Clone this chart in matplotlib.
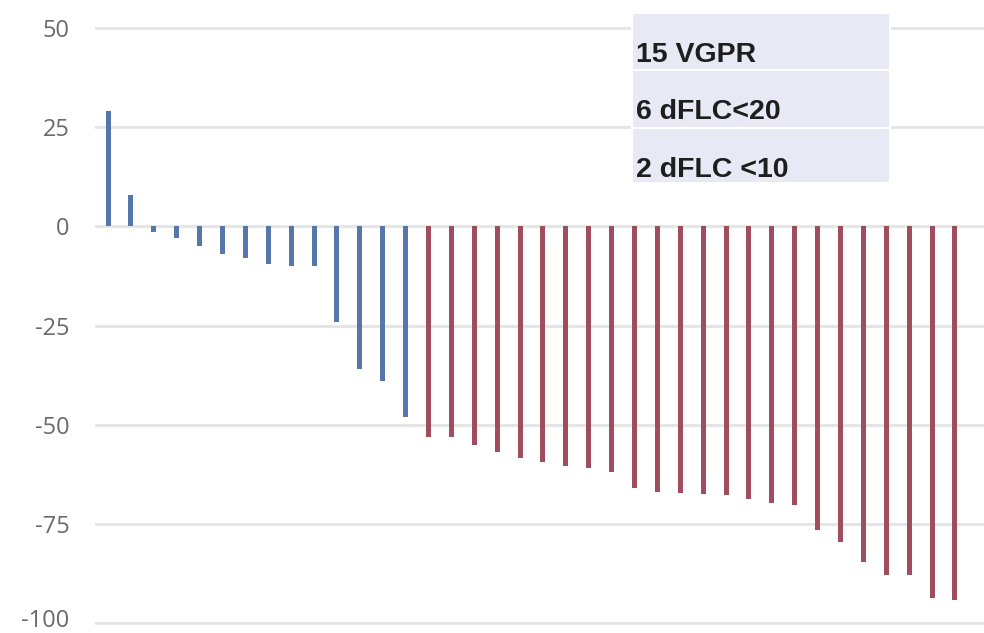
import matplotlib
matplotlib.use("Agg")
import matplotlib.pyplot as plt
from matplotlib.patches import Rectangle
from matplotlib.transforms import ScaledTranslation

# Change in dFLC (%) per patient, sorted from best to worst response
blue_values = [29, 8, -1.5, -3, -5, -7, -8, -9.5, -10, -10, -24, -36, -39, -48]
red_values = [-53, -53, -55, -57, -58.5, -59.5, -60.5, -61, -62, -66, -67, -67.3,
              -67.6, -67.8, -68.7, -69.8, -70.3, -76.5, -79.5, -84.6, -88, -88,
              -93.7, -94.2]
y_ticks = [50, 25, 0, -25, -50, -75, -100]
box_lines = ["15 VGPR", "6 dFLC<20", "2 dFLC <10"]

BLUE = "#5677a9"
RED = "#a04d5e"

W, H, DPI = 984, 633, 100
fig = plt.figure(figsize=(W / DPI, H / DPI), dpi=DPI)
fig.patch.set_facecolor("white")

# axes placed in pixel terms: left edge at 95 px, spanning to the right border
ax = fig.add_axes([95 / W, 3 / H, (W - 95) / W, 610 / H])

n_blue = len(blue_values)
x_blue = list(range(n_blue))
x_red = list(range(n_blue, n_blue + len(red_values)))
bw = 0.22
ax.bar(x_blue, blue_values, width=bw, color=BLUE, zorder=3)
ax.bar(x_red, red_values, width=bw, color=RED, zorder=3)

ax.set_xlim(-0.57, 38.27)
ax.set_ylim(-101.76, 52.02)
ax.set_yticks(y_ticks)
ax.set_yticklabels([str(t) for t in y_ticks])
ax.set_xticks([])
ax.grid(axis="y", color="#e4e4e4", linewidth=2, zorder=0)
for s in ax.spines.values():
    s.set_visible(False)
ax.tick_params(axis="y", length=0, pad=18.5, labelsize=17, labelcolor="#6a6a6a")
labels = ax.get_yticklabels()
for lbl in labels:
    lbl.set_fontfamily("Open Sans")
# lift the bottom label a little so it stays inside the figure
labels[-1].set_transform(labels[-1].get_transform() +
                         ScaledTranslation(0, 5 / DPI, fig.dpi_scale_trans))

# annotation panel with three shaded rows (pixel coordinates from top-left)
rows = [(13, 70), (70, 128), (128, 183)]
text_y = [55, 112, 170]
x0, x1 = 632, 890
for (top, bot), ty, txt in zip(rows, text_y, box_lines):
    fig.patches.append(Rectangle((x0 / W, 1 - bot / H), (x1 - x0) / W, (bot - top) / H,
                                 transform=fig.transFigure, facecolor="#e7e9f4",
                                 edgecolor="white", linewidth=1.5, zorder=5))
    fig.text(636 / W, 1 - ty / H, txt, fontsize=20.5, fontweight="bold",
             family="Liberation Sans", color="#1e1e1e", va="center", ha="left", zorder=6)

fig.savefig("out.png", dpi=DPI)
